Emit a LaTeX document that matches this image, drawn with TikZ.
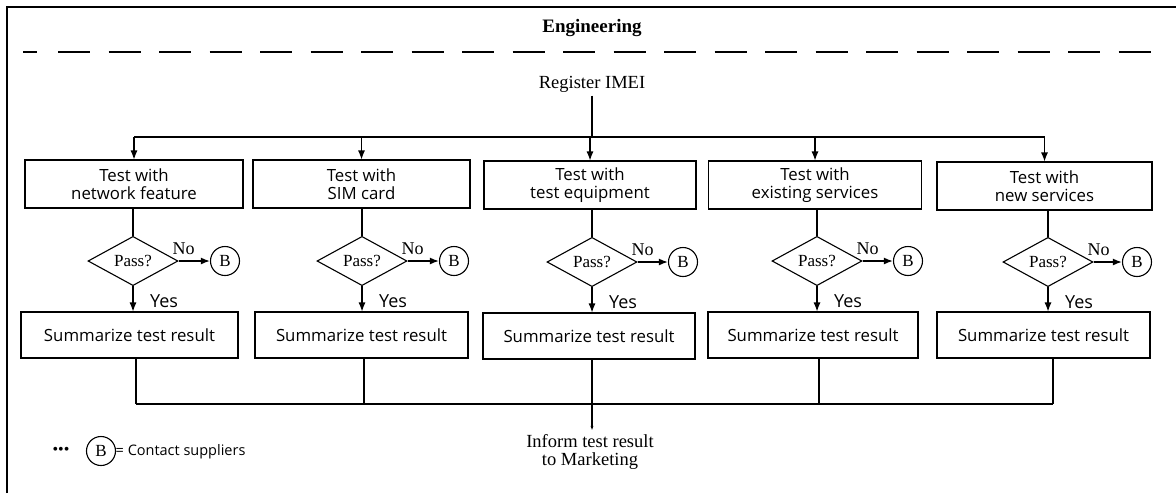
\documentclass[tikz,border=0pt]{standalone}
\usepackage{fontspec}
\setmainfont{Liberation Serif}
\newfontfamily\sansf{Open Sans}
\usetikzlibrary{shapes.geometric,arrows.meta}
\begin{document}
\begin{tikzpicture}[x=1pt,y=-1pt,
  conn/.style={line width=1.1pt},
  arr/.style={conn,-{Latex[length=9pt,width=7pt]}},
  noarr/.style={line width=1.6pt,-{Latex[length=9pt,width=7pt]}},
  smallarr/.style={conn,-{Latex[length=5pt,width=3pt]}},
  box/.style={draw,line width=1.1pt,inner sep=0pt,align=center,
    font=\sansf\fontsize{16.8}{18}\selectfont},
  topbox/.style={box,minimum height=48pt},
  sumbox/.style={box,minimum height=46pt},
  dia/.style={diamond,draw,line width=1.1pt,inner sep=0pt,minimum width=90pt,
    minimum height=42pt,font=\fontsize{17}{17}\selectfont},
  bcirc/.style={circle,draw,line width=1.1pt,inner sep=0pt,minimum size=29pt,
    font=\fontsize{17}{17}\selectfont},
  serif/.style={font=\fontsize{18.5}{18}\selectfont,align=center},
  nolbl/.style={font=\fontsize{18}{18}\selectfont,inner sep=0pt},
  yeslbl/.style={font=\sansf\fontsize{18}{18}\selectfont,inner sep=0pt}]
\useasboundingbox (0,0) rectangle (1176,493);
% frame
\draw[line width=2.2pt] (7,493) -- (7,7) -- (1176,7);
% dashed lane separator
\draw[line width=2pt] (23,52) -- (37,52);
\draw[line width=2pt,dash pattern=on 32pt off 18.5pt] (58,52) -- (1152,52);
\node[font=\bfseries\fontsize{19}{19}\selectfont] (eng) at (592,28) {Engineering};
\node[serif] (reg) at (592,84) {Register IMEI};
\coordinate (rj) at (592,137);
% top boxes
\node[topbox,minimum width=218pt] (t1) at (134,184) {Test with\\network feature};
\node[topbox,minimum width=217pt] (t2) at (361.5,184) {Test with\\SIM card};
\node[topbox,minimum width=212pt] (t3) at (590,185) {Test with\\test equipment};
\node[topbox,minimum width=213pt] (t4) at (815,185) {Test with\\existing services};
\node[topbox,minimum width=215pt] (t5) at (1044.5,186) {Test with\\new services};
% diamonds
\node[dia] (d1) at (133,261) {Pass?};
\node[dia] (d2) at (362,261) {Pass?};
\node[dia] (d3) at (592,262) {Pass?};
\node[dia] (d4) at (817,261) {Pass?};
\node[dia] (d5) at (1048,262) {Pass?};
% B circles
\node[bcirc] (b1) at (225,261) {B};
\node[bcirc] (b2) at (454,261) {B};
\node[bcirc] (b3) at (683,262) {B};
\node[bcirc] (b4) at (908,261) {B};
\node[bcirc] (b5) at (1137,262) {B};
% summary boxes
\node[sumbox,minimum width=217pt] (s1) at (129.5,335) {Summarize test result};
\node[sumbox,minimum width=213pt] (s2) at (361.5,335) {Summarize test result};
\node[sumbox,minimum width=212pt] (s3) at (589,336) {Summarize test result};
\node[sumbox,minimum width=210pt] (s4) at (813,335) {Summarize test result};
\node[sumbox,minimum width=213pt] (s5) at (1043.5,335) {Summarize test result};
% inform
\node[serif] (inf) at (590,452) {Inform test result\\to Marketing};
% top bus
\draw[conn] (reg) -- (rj);
\draw[conn] (t1.north |- rj) -- (t5.north |- rj);
\foreach \i in {1,...,5}{
  \draw[arr] (t\i.north |- rj) -- (t\i.north);
  \draw[conn] (d\i.north |- t\i.south) -- (d\i.north);
  \draw[noarr] (d\i.east) -- (b\i.west);
  \draw[arr] (d\i.south) -- (d\i.south |- s\i.north);
  \node[nolbl] (no\i) at ([shift={(5,-12)}]d\i.east) {No};
  \node[yeslbl] (yes\i) at ([shift={(31,15)}]d\i.south) {Yes};
}
% bottom bus
\coordinate (m1) at (136,404);
\coordinate (m2) at (364,404);
\coordinate (m3) at (592,404);
\coordinate (m4) at (819,404);
\coordinate (m5) at (1053,404);
\foreach \i in {1,...,5}{
  \draw[conn] (m\i |- s\i.south) -- (m\i);
}
\draw[conn] (m1) -- (m5);
\draw[smallarr] (m3) -- (m3 |- inf.north);
% legend
\node[font=\fontsize{16}{16}\selectfont,inner sep=0pt] (dots) at (61,451) {•••};
\node[bcirc] (lb) at (101,451) {B};
\node[font=\sansf\fontsize{14.5}{15}\selectfont,anchor=west,inner sep=0pt] (lt) at (115.5,452) {= Contact suppliers};
\end{tikzpicture}
\end{document}
